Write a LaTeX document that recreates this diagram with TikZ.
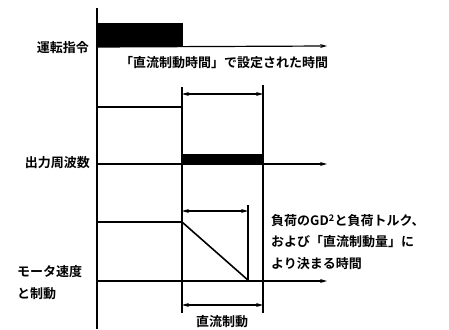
\documentclass[tikz,border=0pt]{standalone}
\usepackage{fontspec}
\newfontfamily\jp{Noto Sans CJK JP}[BoldFont={Noto Sans CJK JP Bold}]
\usetikzlibrary{arrows.meta}
\begin{document}
\begin{tikzpicture}[x=1pt,y=-1pt,
  ln/.style={line width=1.2pt},
  axarrow/.style={ln,-{Stealth[length=7pt,width=4pt]}},
  dim/.style={line width=1.1pt,{Stealth[length=7pt,width=4pt]}-{Stealth[length=7pt,width=4pt]}},
  lbl/.style={font=\jp\bfseries\fontsize{13}{15}\selectfont,inner sep=0pt},
  bar/.style={fill=black}]
\useasboundingbox (0,0) rectangle (449,329);
% coordinates
\coordinate (axT) at (97,8);
\coordinate (axB) at (97,329);
\coordinate (r1s) at (97,47);
\coordinate (r1e) at (327,46);
\coordinate (r2hiS) at (97,107);
\coordinate (r2hiE) at (182,107);
\coordinate (v1T) at (182,87);
\coordinate (v1B) at (182,313);
\coordinate (v2T) at (263,85);
\coordinate (v2B) at (263,313);
\coordinate (r2s) at (97,164);
\coordinate (r2e) at (327,164);
\coordinate (d1a) at (182,94);
\coordinate (d1b) at (263,94);
\coordinate (r3hiS) at (97,222);
\coordinate (r3hiE) at (182,222);
\coordinate (r3low) at (249,281);
\coordinate (r3s) at (97,281);
\coordinate (r3e) at (327,281);
\coordinate (v3T) at (248,205);
\coordinate (v3B) at (248,281);
\coordinate (d2a) at (182,211);
\coordinate (d2b) at (248,211);
\coordinate (d3a) at (182,305);
\coordinate (d3b) at (263,305);
% bars
\fill[bar] (97,23) rectangle (183,47);
\fill[bar] (182,154) rectangle (262,165);
% axes
\draw[ln] (axT) -- (axB);
\draw[axarrow] (r1s) -- (r1e);
\draw[axarrow] (r2s) -- (r2e);
\draw[axarrow] (r3s) -- (r3e);
\draw[ln] (r2hiS) -- (r2hiE);
\draw[ln] (v1T) -- (v1B);
\draw[ln] (v2T) -- (v2B);
\draw[ln] (v3T) -- (v3B);
\draw[line width=1.6pt] (r3hiS) -- (r3hiE) -- (r3low);
% dimensions
\draw[dim] (d1a) -- (d1b);
\draw[dim] (d2a) -- (d2b);
\draw[dim] (d3a) -- (d3b);
% labels
\node[lbl,anchor=east] (l1) at (89,48) {運転指令};
\node[lbl,anchor=east] (l2) at (90,163) {出力周波数};
\node[lbl,anchor=west] (l3) at (17,272) {モータ速度};
\node[lbl,anchor=west] (l4) at (17,294) {と制動};
\node[lbl] (t1) at (224,63) {「直流制動時間」で設定された時間};
\node[lbl] (t2) at (222,322) {直流制動};
\node[lbl,anchor=west] (t3) at (271,221) {負荷のGD\textsuperscript{2}と負荷トルク、};
\node[lbl,anchor=west] (t4) at (271,242) {および「直流制動量」に};
\node[lbl,anchor=west] (t5) at (271,264) {より決まる時間};
\end{tikzpicture}
\end{document}
